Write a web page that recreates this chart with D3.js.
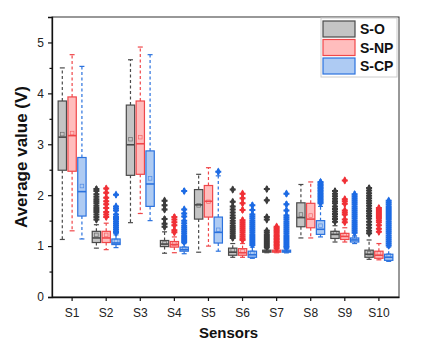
<!DOCTYPE html>
<meta charset="utf-8">
<style>
    body { margin: 0; background: #fff; }
    text { font-family: "Liberation Sans", Arial, sans-serif; }
    .tick text { font-size: 12px; fill: #222; }
    .lbl { font-weight: bold; fill: #111; }
</style>
<body>
<svg id="chart" width="430" height="343"></svg>
</body>
<script src="https://cdn.jsdelivr.net/npm/d3@7"></script>
<script>
    var sensors = ["S1", "S2", "S3", "S4", "S5", "S6", "S7", "S8", "S9", "S10"];
    var seriesNames = ["S-O", "S-NP", "S-CP"];
    var yTicks = [0, 1, 2, 3, 4, 5];

    // S-O
    var soLow    = [1.13, 0.96, 1.46, 0.86, 0.88, 0.78, 0.87, 1.16, 1.08, 0.74];
    var soQ1     = [2.49, 1.07, 2.39, 0.99, 1.53, 0.82, 0.88, 1.38, 1.15, 0.78];
    var soMedian = [3.14, 1.16, 2.99, 1.04, 1.81, 0.88, 0.90, 1.56, 1.23, 0.84];
    var soQ3     = [3.85, 1.29, 3.77, 1.11, 2.11, 0.96, 0.92, 1.85, 1.29, 0.92];
    var soHigh   = [4.50, 1.42, 4.66, 1.28, 2.41, 1.05, 0.95, 2.21, 1.40, 1.12];
    var soMean   = [3.20, 1.22, 3.10, 1.06, 1.80, 0.92, 0.92, 1.62, 1.26, 0.86];
    var soOut = [
        [],
        [2.12, 2.08, 2.02, 1.97, 1.92, 1.88, 1.84, 1.79, 1.75, 1.71, 1.67, 1.62, 1.57, 1.52],
        [],
        [1.89, 1.80, 1.72, 1.53, 1.44, 1.38],
        [],
        [2.11, 1.87, 1.78, 1.72, 1.66, 1.60, 1.55, 1.50, 1.45, 1.40, 1.36, 1.32, 1.28, 1.24, 1.20, 1.16],
        [2.12, 1.90, 1.57, 1.52, 1.30, 1.26, 1.22, 1.18, 1.14, 1.10, 1.06, 1.02, 0.98],
        [],
        [2.08, 2.03, 1.98, 1.93, 1.88, 1.84, 1.78, 1.73, 1.68, 1.63, 1.58, 1.53, 1.48],
        [2.14, 2.09, 2.04, 1.99, 1.94, 1.89, 1.84, 1.79, 1.74, 1.69, 1.64, 1.59, 1.54, 1.48, 1.42, 1.36, 1.30, 1.25]
    ];

    // S-NP
    var npLow    = [1.30, 0.93, 1.64, 0.87, 1.00, 0.78, 0.87, 1.16, 1.08, 0.73];
    var npQ1     = [2.47, 1.07, 2.41, 0.98, 1.57, 0.82, 0.88, 1.36, 1.13, 0.76];
    var npMedian = [3.17, 1.16, 3.01, 1.03, 1.88, 0.87, 0.90, 1.53, 1.19, 0.82];
    var npQ3     = [3.93, 1.29, 3.85, 1.09, 2.19, 0.95, 0.92, 1.84, 1.25, 0.90];
    var npHigh   = [4.76, 1.45, 4.91, 1.18, 2.54, 1.05, 0.95, 2.26, 1.36, 1.05];
    var npMean   = [3.22, 1.22, 3.14, 1.05, 1.87, 0.90, 0.92, 1.60, 1.22, 0.86];
    var npOut = [
        [],
        [2.13, 2.05, 1.95, 1.88, 1.82, 1.75, 1.67, 1.62, 1.57],
        [],
        [1.57, 1.52, 1.47, 1.41, 1.31, 1.27],
        [],
        [2.03, 1.94, 1.84, 1.71, 1.51, 1.47, 1.43, 1.39, 1.35, 1.31, 1.27, 1.23, 1.19, 1.15, 1.12],
        [1.38, 1.35, 1.32, 1.29, 1.26, 1.23, 1.20, 1.17, 1.14, 1.11, 1.08, 1.05, 1.02, 0.99, 0.96],
        [],
        [2.29, 1.92, 1.88, 1.83, 1.70, 1.66, 1.62, 1.52, 1.47],
        [1.75, 1.71, 1.67, 1.63, 1.59, 1.55, 1.51, 1.47, 1.41, 1.34, 1.28]
    ];

    // S-CP
    var cpLow    = [1.14, 0.97, 1.50, 0.85, 0.90, 0.76, 0.87, 1.18, 1.05, 0.70];
    var cpQ1     = [1.59, 1.03, 1.78, 0.90, 1.06, 0.78, 0.88, 1.23, 1.08, 0.72];
    var cpMedian = [2.07, 1.06, 2.22, 0.93, 1.27, 0.83, 0.90, 1.33, 1.12, 0.78];
    var cpQ3     = [2.74, 1.14, 2.87, 0.98, 1.57, 0.90, 0.92, 1.50, 1.16, 0.84];
    var cpHigh   = [4.53, 1.22, 4.76, 1.05, 2.38, 0.98, 0.95, 1.78, 1.20, 0.98];
    var cpMean   = [2.18, 1.10, 2.33, 0.96, 1.32, 0.87, 0.90, 1.40, 1.16, 0.82];
    var cpOut = [
        [],
        [2.01, 1.78, 1.74, 1.70, 1.62, 1.57, 1.53, 1.49, 1.45, 1.41, 1.37, 1.33, 1.29, 1.26],
        [],
        [2.08, 1.72, 1.64, 1.58, 1.50, 1.45, 1.40, 1.36, 1.32, 1.28, 1.24, 1.20, 1.16, 1.12, 1.08],
        [2.46],
        [1.80, 1.71, 1.62, 1.58, 1.54, 1.50, 1.46, 1.42, 1.38, 1.34, 1.30, 1.26, 1.22, 1.18, 1.14, 1.10, 1.06, 1.02],
        [2.03, 1.82, 1.70, 1.60, 1.56, 1.52, 1.48, 1.44, 1.40, 1.36, 1.32, 1.28, 1.24, 1.20, 1.16, 1.12, 1.08, 1.04, 1.00, 0.97],
        [2.26, 2.23, 2.20, 2.17, 2.14, 2.11, 2.08, 2.05, 2.02, 1.99, 1.96, 1.93, 1.90, 1.87, 1.84],
        [2.02, 1.98, 1.94, 1.90, 1.86, 1.82, 1.78, 1.74, 1.70, 1.66, 1.62, 1.58, 1.54, 1.50, 1.46, 1.42, 1.38, 1.34, 1.30, 1.26],
        [1.89, 1.85, 1.81, 1.77, 1.73, 1.69, 1.65, 1.61, 1.57, 1.53, 1.49, 1.45, 1.41, 1.37, 1.33, 1.29, 1.25, 1.21, 1.17, 1.13, 1.09, 1.05, 1.01]
    ];

    var styles = [
        { fill: "#c4c4c4", stroke: "#4a4a4a", dot: "#3c3c3c" },
        { fill: "#ffbdbd", stroke: "#f0474a", dot: "#f03036" },
        { fill: "#aecbf3", stroke: "#2b72de", dot: "#1d6be4" }
    ];

    var series = [
        { low: soLow, q1: soQ1, med: soMedian, q3: soQ3, high: soHigh, mean: soMean, out: soOut },
        { low: npLow, q1: npQ1, med: npMedian, q3: npQ3, high: npHigh, mean: npMean, out: npOut },
        { low: cpLow, q1: cpQ1, med: cpMedian, q3: cpQ3, high: cpHigh, mean: cpMean, out: cpOut }
    ];

    var margin = { left: 52, top: 17, right: 31, bottom: 46 },
        width = 430 - margin.left - margin.right,
        height = 343 - margin.top - margin.bottom;

    var svg = d3.select("#chart");
    var g = svg.append("g")
        .attr("transform", "translate(" + margin.left + "," + margin.top + ")");

    var x = d3.scaleBand().domain(sensors).range([0, width]).padding(0.18);
    var sub = d3.scaleBand().domain(seriesNames).range([0, x.bandwidth()]).paddingInner(0.15);
    var y = d3.scaleLinear().domain([0, 5.5]).range([height, 0]);

    // frame
    g.append("rect")
        .attr("width", width).attr("height", height)
        .attr("fill", "none").attr("stroke", "#333").attr("stroke-width", 1);

    var bw = sub.bandwidth();
    var symbol = d3.symbol().type(d3.symbolDiamond).size(20);
    var symbol2 = d3.symbol().type(d3.symbolCross).size(20);

    series.forEach(function(s, si) {
        var st = styles[si];
        var gs = g.append("g");
        sensors.forEach(function(name, i) {
            var x0 = x(name) + sub(seriesNames[si]);
            var cx = x0 + bw / 2;
            // whiskers
            gs.append("line")
                .attr("x1", cx).attr("x2", cx)
                .attr("y1", y(s.q3[i])).attr("y2", y(s.high[i]))
                .attr("stroke", st.stroke).attr("stroke-width", 1.2).attr("stroke-dasharray", "3,2.5");
            gs.append("line")
                .attr("x1", cx).attr("x2", cx)
                .attr("y1", y(s.q1[i])).attr("y2", y(s.low[i]))
                .attr("stroke", st.stroke).attr("stroke-width", 1.2).attr("stroke-dasharray", "3,2.5");
            [s.high[i], s.low[i]].forEach(function(v) {
                gs.append("line")
                    .attr("x1", cx - 2.5).attr("x2", cx + 2.5)
                    .attr("y1", y(v)).attr("y2", y(v))
                    .attr("stroke", st.stroke).attr("stroke-width", 1.2);
            });
            // box
            gs.append("rect")
                .attr("x", x0).attr("width", bw)
                .attr("y", y(s.q3[i]))
                .attr("height", Math.max(1, y(s.q1[i]) - y(s.q3[i])))
                .attr("fill", st.fill).attr("stroke", st.stroke).attr("stroke-width", 1.2);
            gs.append("line")
                .attr("x1", x0).attr("x2", x0 + bw)
                .attr("y1", y(s.med[i])).attr("y2", y(s.med[i]))
                .attr("stroke", st.stroke).attr("stroke-width", 1.6);
            // mean
            gs.append("rect")
                .attr("x", cx - 1.8).attr("y", y(s.mean[i]) - 1.8)
                .attr("width", 3.6).attr("height", 3.6)
                .attr("fill", "none").attr("stroke", st.stroke).attr("stroke-width", 0.7)
                .attr("opacity", 0.7);
            // outliers
            var dots = gs.selectAll(null)
                .data(s.out[i])
                .enter().append("g")
                .attr("transform", function(v) { return "translate(" + cx + "," + y(v) + ")"; })
                .attr("fill", st.dot);
            dots.append("path").attr("d", symbol);
            dots.append("path").attr("d", symbol2);
        });
    });

    // axes
    var yAxis = d3.axisLeft(y).tickValues(yTicks).tickSize(4).tickPadding(4).tickFormat(d3.format("d"));
    var ya = g.append("g").call(yAxis);
    ya.select(".domain").attr("stroke", "#111").attr("stroke-width", 1.3);
    ya.selectAll(".tick line").attr("stroke", "#111").attr("stroke-width", 1.2);
    // minor ticks
    g.append("g").call(d3.axisLeft(y).tickValues([0.5, 1.5, 2.5, 3.5, 4.5]).tickSize(2.5).tickFormat(""))
        .call(function(a) { a.select(".domain").remove(); a.selectAll("line").attr("stroke", "#111").attr("stroke-width", 1.2); });

    var xAxis = d3.axisBottom(x).tickSize(4).tickPadding(7).tickSizeOuter(0);
    var xa = g.append("g").attr("transform", "translate(0," + height + ")").call(xAxis);
    xa.select(".domain").attr("stroke", "#111").attr("stroke-width", 1.3);
    xa.selectAll(".tick line").attr("stroke", "#111").attr("stroke-width", 1.2);

    // axis titles
    svg.append("text")
        .attr("class", "lbl")
        .attr("transform", "translate(27," + (margin.top + height / 2) + ") rotate(-90)")
        .attr("text-anchor", "middle")
        .style("font-size", "17px")
        .text("Average value (V)");
    svg.append("text")
        .attr("class", "lbl")
        .attr("x", margin.left + width / 2 + 3)
        .attr("y", 338)
        .attr("text-anchor", "middle")
        .style("font-size", "15px")
        .text("Sensors");

    // legend
    var lg = svg.append("g").attr("transform", "translate(321,18)");
    lg.append("rect")
        .attr("width", 76).attr("height", 59)
        .attr("fill", "#fff").attr("stroke", "#ccc").attr("stroke-width", 1);
    seriesNames.forEach(function(n, i) {
        var row = lg.append("g").attr("transform", "translate(2," + (3 + i * 18.5) + ")");
        row.append("rect")
            .attr("width", 32).attr("height", 16)
            .attr("fill", styles[i].fill).attr("stroke", styles[i].stroke).attr("stroke-width", 1.2);
        row.append("text")
            .attr("class", "lbl")
            .attr("x", 37).attr("y", 13)
            .style("font-size", "14px")
            .text(n);
    });
</script>
